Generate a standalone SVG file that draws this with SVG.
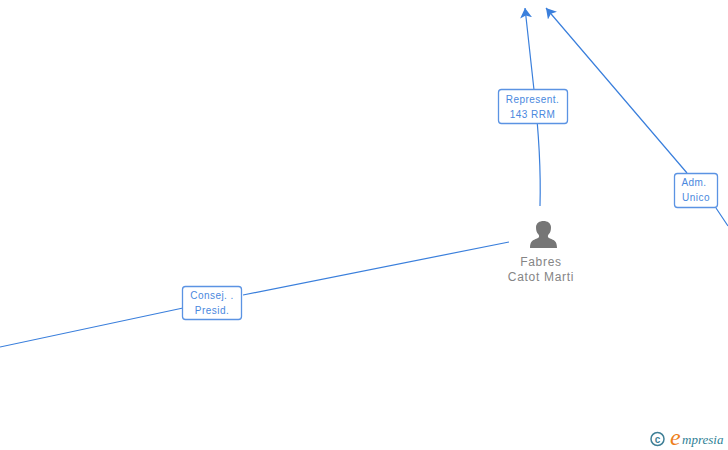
<svg xmlns="http://www.w3.org/2000/svg" width="728" height="450" viewBox="0 0 728 450">
<style>
.c{fill:none;stroke:#3a7fdc;stroke-width:1.2}
.b{fill:#fff;stroke:#5b93e3;stroke-width:1.3}
.l{font-family:"Liberation Sans",Arial,sans-serif;font-size:10px;fill:#4a88de;text-anchor:middle;letter-spacing:.45px}
.n{font-family:"Liberation Sans",Arial,sans-serif;font-size:12px;fill:#858585;text-anchor:middle;letter-spacing:.7px}
</style>
<defs>
<marker id="a" markerUnits="userSpaceOnUse" markerWidth="13" markerHeight="13" refX="10" refY="6" orient="auto"><path d="M0 0L10 6L0 12L2.500 6Z" fill="#3a7fdc"/></marker>
</defs>
<rect width="728" height="450" fill="#fff"/>
<g id="connectors">
<path class="c" d="M540 206C541 170 538 125 534 90L525 8" marker-end="url(#a)"/>
<path class="c" d="M728 226L716 208M687 173L546 8" marker-end="url(#a)"/>
<path class="c" d="M509 242L243 295M183 308L0 347"/>
</g>
<g id="label-represent">
<rect class="b" x="498.500" y="89.500" width="69" height="34" rx="3"/>
<text class="l" x="532.500" y="103">Represent.</text>
<text class="l" x="532.500" y="118">143 RRM</text>
</g>
<g id="label-adm">
<rect class="b" x="674.500" y="173.500" width="43" height="34" rx="3"/>
<text class="l" x="694" y="186">Adm.</text>
<text class="l" x="696" y="201">Unico</text>
</g>
<g id="label-consej">
<rect class="b" x="182.500" y="286.500" width="59" height="33" rx="3"/>
<text class="l" x="212" y="299">Consej. .</text>
<text class="l" x="212" y="314">Presid.</text>
</g>
<g id="node-fabres">
<path fill="#767676" d="M530 248C530 241 533 240 537 238.500C539.500 237.500 539.500 236 538.500 234.500C536.500 232.500 536 230 536 227C536.300 223 539.500 221 543.500 221C547.500 221 550.700 223 551 227C551 230 550.500 232.500 548.500 234.500C547.500 236 547.500 237.500 550 238.500C554 240 557 241 557 248Z"/>
<text class="n" x="541" y="266">Fabres</text>
<text class="n" x="541" y="281">Catot Marti</text>
</g>
<g id="logo">
<circle cx="657.500" cy="439" r="6.500" fill="none" stroke="#3f7f96" stroke-width="1.500"/>
<text x="657.500" y="442.500" font-family="Liberation Sans,sans-serif" font-size="10" font-weight="bold" fill="#3f7f96" text-anchor="middle">c</text>
<text x="670" y="445" font-family="Liberation Serif,serif" font-style="italic" font-size="24" fill="#ee7f1a">e</text>
<text x="682" y="444" font-family="Liberation Serif,serif" font-style="italic" font-size="13" fill="#2f7f96">mpresia</text>
</g>
</svg>
